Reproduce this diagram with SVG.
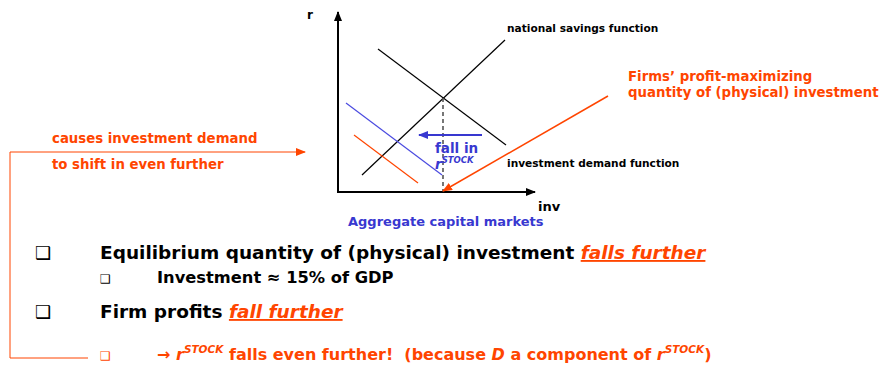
<svg xmlns="http://www.w3.org/2000/svg" width="883" height="368" viewBox="0 0 883 368">
<defs>
<style>
text{font-family:"DejaVu Sans","Verdana",sans-serif;font-weight:bold}
.blk{fill:#000}
.org{fill:#FF4500}
.blu{fill:#3838D0}
.sm{font-size:10.6px}
.md{font-size:13.3px}
.lg{font-size:18.5px}
.sb{font-size:16.3px}
.it{font-style:italic}
.bl{font-size:18px}
.bs{font-size:12px}
</style>
<marker id="ab" markerWidth="10" markerHeight="8" refX="9" refY="4" orient="auto" markerUnits="userSpaceOnUse"><path d="M0,0 L10,4 L0,8 Z" fill="#000"/></marker>
<marker id="ao" markerWidth="10" markerHeight="8" refX="9" refY="4" orient="auto" markerUnits="userSpaceOnUse"><path d="M0,0 L10,4 L0,8 Z" fill="#FF4500"/></marker>
<marker id="au" markerWidth="10" markerHeight="8" refX="9" refY="4" orient="auto" markerUnits="userSpaceOnUse"><path d="M0,0 L10,4 L0,8 Z" fill="#3838D0"/></marker>
</defs>
<rect width="883" height="368" fill="#fff"/>
<g id="axes">
<line x1="338" y1="192" x2="338" y2="12" stroke="#000" stroke-width="2" marker-end="url(#ab)"/>
<line x1="337" y1="192" x2="535" y2="192" stroke="#000" stroke-width="2" marker-end="url(#ab)"/>
<text x="307" y="19" class="blk" font-size="12">r</text>
<text x="538" y="211" class="blk" font-size="13">inv</text>
</g>
<g id="curves">
<line x1="362" y1="175" x2="505" y2="40" stroke="#000" stroke-width="1.2"/>
<line x1="378" y1="49" x2="506" y2="145" stroke="#000" stroke-width="1.2"/>
<line x1="346" y1="103" x2="442" y2="175" stroke="#4A4AE0" stroke-width="1.2"/>
<line x1="354" y1="135" x2="418" y2="183" stroke="#FF4500" stroke-width="1.2"/>
<line x1="443" y1="98" x2="443" y2="191" stroke="#555" stroke-width="1.6" stroke-dasharray="4,3"/>
</g>
<g id="connectors">
<line x1="482" y1="135" x2="419" y2="135" stroke="#3838D0" stroke-width="2" marker-end="url(#au)"/>
<line x1="608" y1="96" x2="443" y2="191" stroke="#FF4500" stroke-width="1.5" marker-end="url(#ao)"/>
<polyline points="88,358 10,358 10,152 305,152" fill="none" stroke="#FF4500" stroke-width="1" marker-end="url(#ao)"/>
</g>
<g id="labels">
<text x="507" y="32" class="blk sm">national savings function</text>
<text x="507" y="167" class="blk sm">investment demand function</text>
<text x="435" y="153" class="blu" font-size="13.5">fall in</text>
<text x="435" y="169" class="blu it" font-size="13.5">r<tspan font-size="8.5" dy="-6">STOCK</tspan></text>
<text x="348" y="226" class="blu" font-size="13">Aggregate capital markets</text>
<text x="628" y="81" class="org md">Firms’ profit-maximizing</text>
<text x="628" y="97" class="org md">quantity of (physical) investment</text>
<text x="52" y="143" class="org md">causes investment demand</text>
<text x="52" y="169" class="org md">to shift in even further</text>
</g>
<g id="bullets">
<text x="35" y="259" class="blk bl">❑</text>
<text x="100" y="259" class="blk lg">Equilibrium quantity of (physical) investment <tspan class="org it" text-decoration="underline">falls further</tspan></text>
<text x="100" y="283" class="blk bs">❑</text>
<text x="157" y="283" class="blk sb">Investment ≈ 15% of GDP</text>
<text x="35" y="318" class="blk bl">❑</text>
<text x="100" y="318" class="blk lg">Firm profits <tspan class="org it" text-decoration="underline">fall further</tspan></text>
<text x="100" y="360" class="org bs">❑</text>
<text x="157" y="360" class="org" font-size="16">→ <tspan class="it">r</tspan><tspan class="it" font-size="10.5" dy="-7">STOCK</tspan><tspan dy="7"> falls even further!&#160; (because </tspan><tspan class="it">D</tspan> a component of <tspan class="it">r</tspan><tspan class="it" font-size="10.5" dy="-7">STOCK</tspan><tspan dy="7">)</tspan></text>
</g>
</svg>
